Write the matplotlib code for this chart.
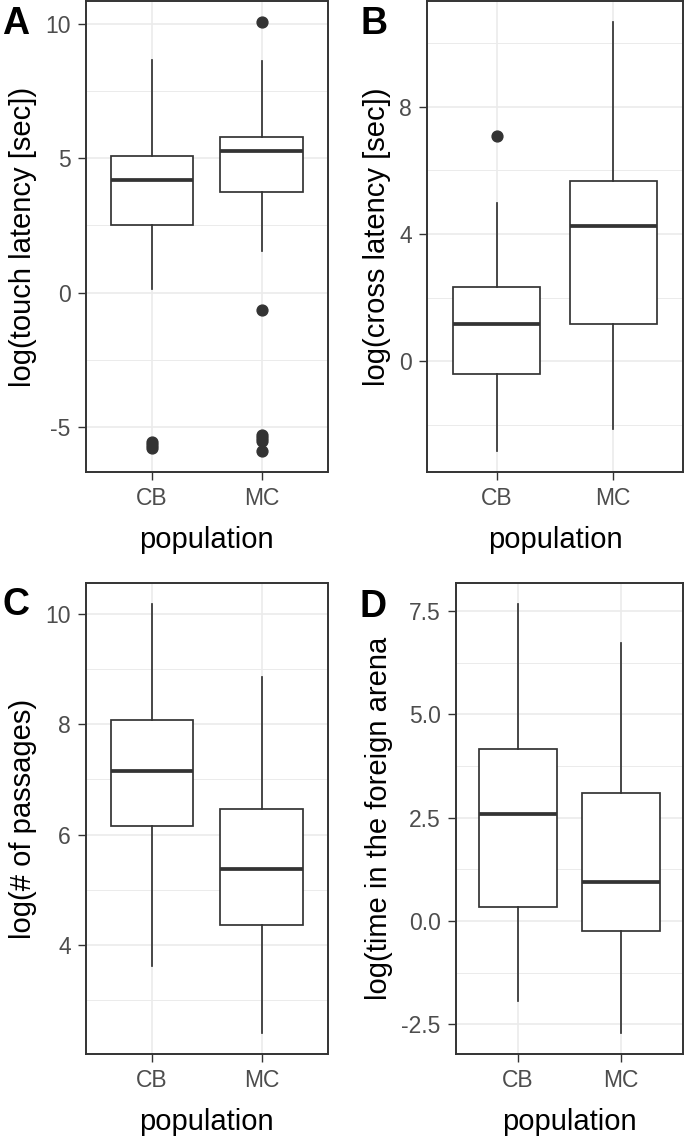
"""
Four boxplots (touch latency, cross latency, passages, time in foreign arena)
for the CB and MC populations, redrawn in a ggplot theme_bw look.
"""

import matplotlib

matplotlib.use("Agg")
import matplotlib.pyplot as plt
from matplotlib.ticker import FixedLocator, MultipleLocator

plt.rcParams["font.family"] = ["Liberation Sans", "DejaVu Sans"]
plt.rcParams["axes.unicode_minus"] = False

populations = ["CB", "MC"]

# panel A: log(touch latency [sec])
touch_q1 = [2.52, 3.74]
touch_med = [4.19, 5.28]
touch_q3 = [5.09, 5.80]
touch_lo = [0.13, 1.54]
touch_hi = [8.67, 8.61]
touch_out = [[-5.55, -5.68, -5.78], [10.05, -0.64, -5.28, -5.42, -5.50, -5.87]]

# panel B: log(cross latency [sec])
cross_q1 = [-0.40, 1.18]
cross_med = [1.16, 4.26]
cross_q3 = [2.33, 5.67]
cross_lo = [-2.81, -2.13]
cross_hi = [4.98, 10.65]
cross_out = [[7.07], []]

# panel C: log(# of passages)
pass_q1 = [6.15, 4.36]
pass_med = [7.15, 5.37]
pass_q3 = [8.07, 6.47]
pass_lo = [3.61, 2.41]
pass_hi = [10.17, 8.85]
pass_out = [[], []]

# panel D: log(time in the foreign arena)
arena_q1 = [0.33, -0.25]
arena_med = [2.58, 0.95]
arena_q3 = [4.17, 3.10]
arena_lo = [-1.93, -2.70]
arena_hi = [7.66, 6.73]
arena_out = [[], []]

INK = "#333333"
GRID = "#EBEBEB"
W, H = 685, 1137


def box_stats(q1, med, q3, lo, hi, out):
    return [
        dict(label=populations[i], q1=q1[i], med=med[i], q3=q3[i],
             whislo=lo[i], whishi=hi[i], fliers=out[i])
        for i in range(len(populations))
    ]


def draw_panel(ax, stats, ylabel, major, minor_step, fmt=None):
    ax.bxp(
        stats,
        positions=[1, 2],
        widths=0.75,
        showcaps=False,
        patch_artist=True,
        boxprops=dict(facecolor="white", edgecolor=INK, linewidth=1.25),
        whiskerprops=dict(color=INK, linewidth=1.25),
        medianprops=dict(color=INK, linewidth=2.7, solid_capstyle="butt"),
        flierprops=dict(marker="o", markersize=7.8, markerfacecolor=INK,
                        markeredgecolor=INK, linestyle="none"),
        zorder=3,
    )
    ax.margins(y=0.05)
    ax.set_xlim(0.4, 2.6)
    ax.set_xticks([1, 2])
    ax.set_xticklabels(populations)
    ax.yaxis.set_major_locator(FixedLocator(major))
    if fmt is not None:
        ax.set_yticklabels([fmt.format(v) for v in major])
    ax.yaxis.set_minor_locator(MultipleLocator(minor_step))
    ax.grid(True, which="major", color=GRID, linewidth=1.2, zorder=0)
    ax.grid(True, which="minor", axis="y", color=GRID, linewidth=0.7, zorder=0)
    ax.set_axisbelow(True)
    ax.tick_params(which="major", length=5.5, width=1.0, color=INK,
                   labelsize=16.5, labelcolor="#4D4D4D", pad=5.5)
    ax.tick_params(which="minor", length=0)
    for sp in ax.spines.values():
        sp.set_color(INK)
        sp.set_linewidth(1.4)
    ax.set_xlabel("population", fontsize=21, labelpad=11)
    ax.set_ylabel(ylabel, fontsize=21, labelpad=6)


def px_axes(fig, left, top, right, bottom):
    return fig.add_axes([left / W, 1 - bottom / H, (right - left) / W, (bottom - top) / H])


fig = plt.figure(figsize=(W / 100, H / 100), dpi=100)

ax_a = px_axes(fig, 86, 1, 327.5, 472)
ax_b = px_axes(fig, 427, 1, 683, 472)
ax_c = px_axes(fig, 86, 583, 327.5, 1054)
ax_d = px_axes(fig, 456, 583, 683, 1054)

draw_panel(ax_a, box_stats(touch_q1, touch_med, touch_q3, touch_lo, touch_hi, touch_out),
           "log(touch latency [sec])", [-5, 0, 5, 10], 2.5)
draw_panel(ax_b, box_stats(cross_q1, cross_med, cross_q3, cross_lo, cross_hi, cross_out),
           "log(cross latency [sec])", [0, 4, 8], 2)
draw_panel(ax_c, box_stats(pass_q1, pass_med, pass_q3, pass_lo, pass_hi, pass_out),
           "log(# of passages)", [4, 6, 8, 10], 1)
draw_panel(ax_d, box_stats(arena_q1, arena_med, arena_q3, arena_lo, arena_hi, arena_out),
           "log(time in the foreign arena", [-2.5, 0, 2.5, 5, 7.5], 1.25, fmt="{:.1f}")

for letter, x, y in [("A", 2, 34), ("B", 361, 34), ("C", 3, 615), ("D", 360, 617)]:
    fig.text(x / W, 1 - y / H, letter, fontsize=27, fontweight="bold",
             ha="left", va="baseline")

fig.savefig("out.png", dpi=100)
